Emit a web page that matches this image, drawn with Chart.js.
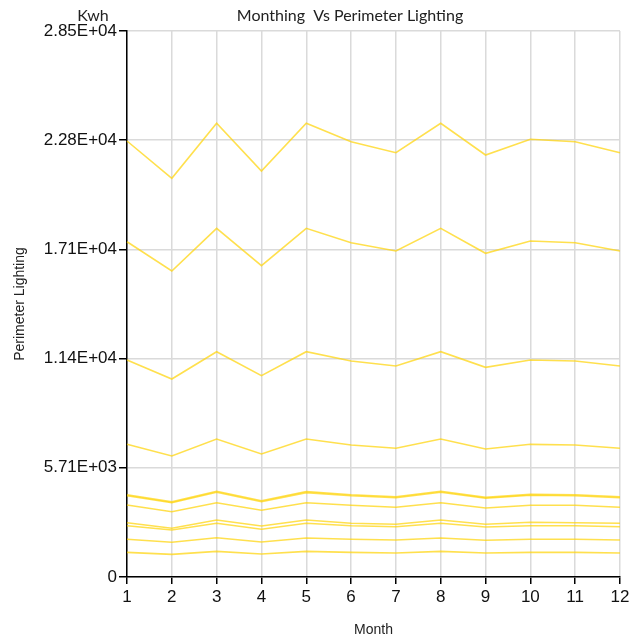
<!DOCTYPE html>
<html lang="en">
<head>
  <meta charset="UTF-8" />
  <title>Monthing Vs Perimeter Lighting</title>
  <script src="https://cdn.jsdelivr.net/npm/chart.js"></script>
  <style>
    html, body { margin: 0; padding: 0; background: #fff; }
    #wrap { width: 630px; height: 642px; }
  </style>
</head>
<body>
  <div id="wrap"><canvas id="graphique"></canvas></div>

  <script>
    // months on the x axis
    const months = ['1', '2', '3', '4', '5', '6', '7', '8', '9', '10', '11', '12'];

    // y axis ticks (Kwh)
    const yTicks = [0, 5708, 11416, 17124, 22832, 28540];

    // one array per lighting zone
    const zone1 = [22790, 20840, 23715, 21222, 23715, 22753, 22178, 23715, 22058, 22879, 22753, 22178];
    const zone2 = [17526, 15995, 18226, 16272, 18226, 17474, 17040, 18226, 16920, 17563, 17474, 17040];
    const zone3 = [11343, 10349, 11777, 10522, 11777, 11290, 11029, 11777, 10961, 11343, 11290, 11029];
    const zone4 = [6935, 6325, 7213, 6429, 7213, 6900, 6727, 7213, 6691, 6935, 6900, 6727];
    const zone5 = [4300, 3930, 4480, 3985, 4470, 4300, 4195, 4480, 4160, 4320, 4300, 4195];
    const zone6 = [4250, 3884, 4427, 3936, 4410, 4250, 4145, 4427, 4114, 4270, 4250, 4145];
    const zone7 = [3763, 3413, 3884, 3486, 3884, 3748, 3643, 3884, 3607, 3748, 3748, 3643];
    const zone8 = [2838, 2546, 2979, 2666, 2979, 2807, 2755, 2979, 2755, 2859, 2838, 2807];
    const zone9 = [2682, 2457, 2807, 2493, 2807, 2682, 2629, 2807, 2613, 2682, 2682, 2629];
    const zone10 = [1970, 1814, 2054, 1829, 2038, 1970, 1934, 2038, 1918, 1970, 1970, 1934];
    const zone11 = [1289, 1185, 1341, 1202, 1341, 1289, 1254, 1341, 1254, 1289, 1289, 1254];

    const allZones = [zone1, zone2, zone3, zone4, zone5, zone6, zone7, zone8, zone9, zone10, zone11];

    const narrow = "'Liberation Sans Narrow', 'Arial Narrow', 'Liberation Sans', sans-serif";
    const tickFont = { family: narrow, size: 17 };

    function sci(v) {
      if (v === 0) return '0';
      const [m, e] = v.toExponential(2).split('e');
      const n = parseInt(e, 10);
      return m + 'E' + (n < 0 ? '-' : '+') + String(Math.abs(n)).padStart(2, '0');
    }

    // title texts drawn above the plot
    const headerPlugin = {
      id: 'header',
      afterDraw(chart) {
        const ctx = chart.ctx;
        ctx.save();
        ctx.fillStyle = '#222';
        ctx.font = "16px Lato, 'Open Sans', sans-serif";
        ctx.textAlign = 'center';
        ctx.textBaseline = 'middle';
        ctx.fillText('Monthing  Vs Perimeter Lighting', 350, 16);
        ctx.fillText('Kwh', 93, 16);
        ctx.restore();
      }
    };

    const ctx = document.getElementById('graphique').getContext('2d');

    new Chart(ctx, {
      type: 'line',
      data: {
        labels: months,
        datasets: allZones.map((d, i) => ({
          label: 'Zone ' + (i + 1),
          data: d,
          borderColor: 'rgba(255, 212, 10, 0.72)',
          borderWidth: 1.6,
          pointRadius: 0,
          fill: false,
          tension: 0
        }))
      },
      options: {
        responsive: true,
        maintainAspectRatio: false,
        animation: false,
        layout: { padding: { top: 31, right: 0, left: 0, bottom: 0 } },
        plugins: {
          legend: { display: false },
          tooltip: { enabled: false }
        },
        scales: {
          x: {
            type: 'category',
            offset: false,
            grid: { color: '#dadada', lineWidth: 1.5, tickColor: '#000', tickLength: 7 },
            border: { color: '#000', width: 1.5 },
            ticks: { color: '#111', font: tickFont, padding: 3, maxRotation: 0 },
            title: {
              display: true, text: 'Month', color: '#222',
              font: { family: narrow, size: 14 },
              padding: { top: 0, bottom: 3 }
            },
            afterFit(scale) { scale.height = 65; scale.paddingRight = 10; }
          },
          y: {
            min: 0,
            max: 28540,
            afterBuildTicks(scale) { scale.ticks = yTicks.map(v => ({ value: v })); },
            grid: { color: '#dadada', lineWidth: 1.5, tickColor: '#000', tickLength: 8 },
            border: { color: '#000', width: 1.5 },
            ticks: { color: '#111', font: tickFont, padding: 2, callback: v => sci(v) },
            title: {
              display: true, text: 'Perimeter Lighting', color: '#222',
              font: { family: narrow, size: 14 },
              padding: { top: 12, bottom: 0 }
            },
            afterFit(scale) { scale.width = 127; }
          }
        }
      },
      plugins: [headerPlugin]
    });
  </script>
</body>
</html>
